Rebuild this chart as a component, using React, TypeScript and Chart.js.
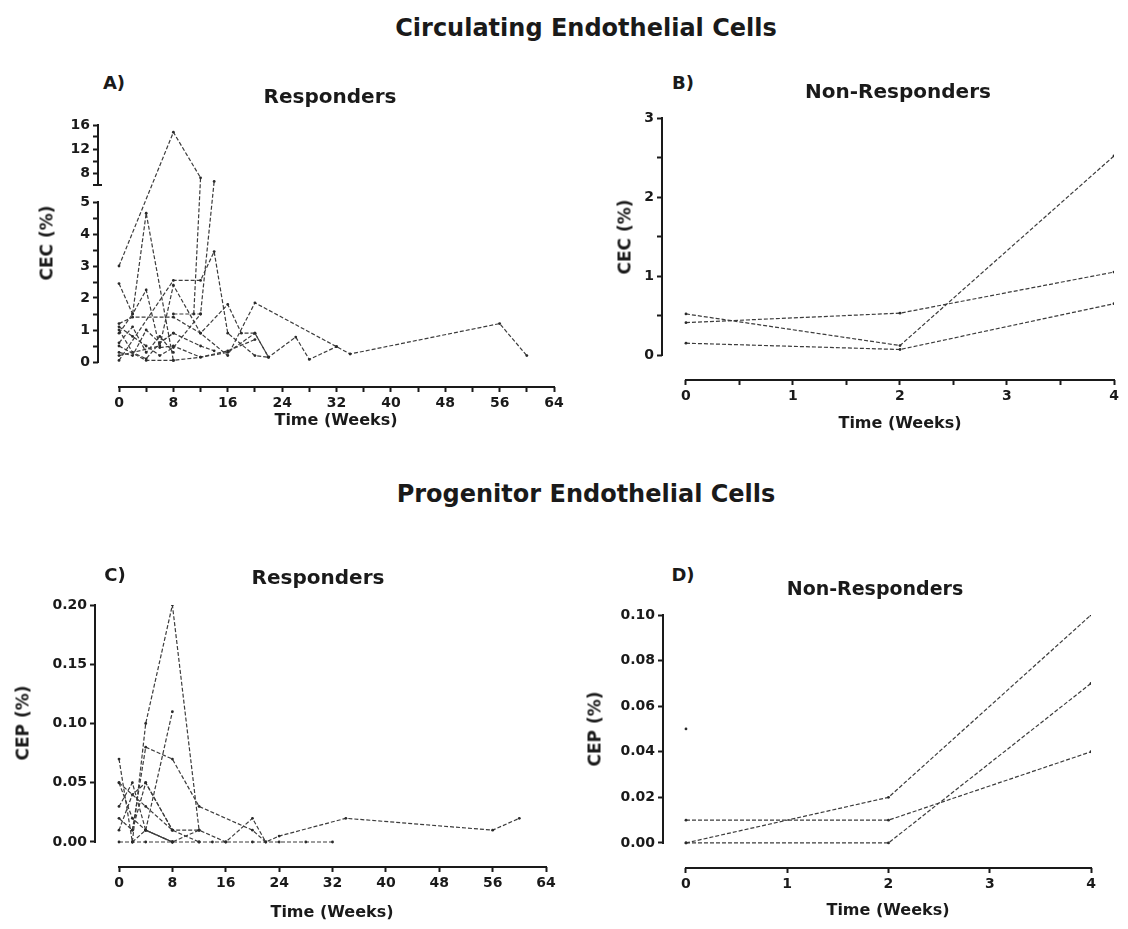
import React, { useEffect, useRef } from 'react';
import { Chart, registerables, LinearScale } from 'chart.js';

Chart.register(...registerables);

// ---------------- DATA ----------------
// Each series = one patient: [week, value] pairs
const cecResponders: number[][][] = [
  [[0, 3.0], [8, 14.8], [12, 7.2], [11, 1.5]],
  [[0, 0.05], [8, 2.55], [12, 2.55], [14, 3.45], [16, 0.9], [20, 0.2], [22, 0.15]],
  [[8, 1.5], [12, 1.5], [14, 6.6]],
  [[0, 2.45], [2, 1.5], [4, 2.25], [6, 0.45], [8, 0.5], [12, 0.15], [16, 0.35], [20, 0.7]],
  [[0, 0.9], [2, 1.5], [4, 4.65], [8, 0.05]],
  [[0, 1.2], [2, 1.4], [8, 1.4], [12, 0.9], [16, 0.2], [20, 1.85], [32, 0.48], [34, 0.25], [56, 1.2], [60, 0.2]],
  [[0, 0.5], [4, 0.05], [8, 0.05], [12, 0.15], [16, 0.3], [20, 0.9], [22, 0.15]],
  [[0, 0.2], [6, 0.5], [8, 2.4], [12, 0.9], [16, 1.8], [18, 0.9], [20, 0.9], [22, 0.15], [26, 0.78], [28, 0.08], [32, 0.48]],
  [[0, 1.0], [2, 0.3], [4, 0.1], [6, 0.6], [8, 0.9]],
  [[0, 0.6], [2, 1.1], [4, 0.3], [6, 0.8], [8, 0.3]],
  [[0, 0.3], [2, 0.2], [4, 1.0], [6, 0.6], [8, 0.9], [12, 0.5], [14, 0.35]],
  [[0, 1.1], [2, 0.8], [4, 0.5], [6, 0.2], [8, 0.45], [12, 1.5]],
];

const cecNonResponders: number[][][] = [
  [[0, 0.52], [2, 0.12], [4, 2.52]],
  [[0, 0.41], [2, 0.53], [4, 1.05]],
  [[0, 0.15], [2, 0.07], [4, 0.65]],
];

const cepResponders: number[][][] = [
  [[2, 0.0], [4, 0.10], [8, 0.20], [12, 0.01]],
  [[4, 0.01], [8, 0.11]],
  [[2, 0.01], [4, 0.08], [8, 0.07], [12, 0.03], [20, 0.01], [22, 0.0], [24, 0.005], [34, 0.02], [56, 0.01], [60, 0.02]],
  [[0, 0.0], [2, 0.0], [4, 0.0], [8, 0.0], [12, 0.0], [14, 0.0], [16, 0.0], [20, 0.0], [24, 0.0], [28, 0.0], [32, 0.0]],
  [[0, 0.07], [2, 0.0], [4, 0.01], [8, 0.0], [12, 0.01], [16, 0.0], [20, 0.02], [22, 0.0]],
  [[0, 0.05], [4, 0.03], [8, 0.01], [12, 0.0]],
  [[0, 0.03], [2, 0.05], [4, 0.01], [8, 0.0]],
  [[0, 0.01], [2, 0.04], [4, 0.05], [8, 0.01], [12, 0.01]],
  [[0, 0.02], [2, 0.01], [4, 0.05], [8, 0.01]],
  [[0, 0.05], [2, 0.02], [4, 0.01], [8, 0.0]],
];

const cepNonResponders: number[][][] = [
  [[0, 0.0], [2, 0.02], [4, 0.10]],
  [[0, 0.01], [2, 0.01], [4, 0.04]],
  [[0, 0.0], [2, 0.0], [4, 0.07]],
  [[0, 0.05]],
];

// Tick values
const weekTicksLong = [0, 8, 16, 24, 32, 40, 48, 56, 64];
const weekMinorLong = [4, 12, 20, 28, 36, 44, 52, 60];
const weekTicksShort = [0, 1, 2, 3, 4];
const weekMinorShort = [0.5, 1.5, 2.5, 3.5];
const cecRespTicks = [0, 1, 2, 3, 4, 5, 8, 12, 16];
const cecRespMinor = [0.5, 1.5, 2.5, 3.5, 4.5, 10, 14];
const cecNonTicks = [0, 1, 2, 3];
const cecNonMinor = [0.5, 1.5, 2.5];
const cepRespTicks = [0, 0.05, 0.1, 0.15, 0.2];
const cepNonTicks = [0, 0.02, 0.04, 0.06, 0.08, 0.1];

// ---------------- STYLE ----------------
const FONT = "'DejaVu Sans', 'Liberation Sans', sans-serif";
const INK = '#1a1a1a';
const LINE = '#3c3c3c';

// ---------------- BROKEN AXIS SCALE (panel A) ----------------
const BREAK_LOW = 5;
const BREAK_HIGH = 6;
const BROKEN_TOP = 16;
const W_LOW = 32;
const W_GAP = 17;
const W_HIGH = 6;
const W_OFFSET = 25;

function brokenUnits(v: number) {
  if (v <= BREAK_LOW) return v * W_LOW;
  if (v <= BREAK_HIGH) return BREAK_LOW * W_LOW + (v - BREAK_LOW) * W_GAP;
  return BREAK_LOW * W_LOW + W_GAP + (v - BREAK_HIGH) * W_HIGH;
}
const U_MIN = -W_OFFSET;
const U_MAX = brokenUnits(BROKEN_TOP);

class BrokenLinearScale extends LinearScale {
  static id = 'brokenLinear';
  static defaults = LinearScale.defaults;
  getPixelForValue(value: number) {
    if (value === null || value === undefined || isNaN(value)) return NaN;
    return this.getPixelForDecimal((brokenUnits(value) - U_MIN) / (U_MAX - U_MIN));
  }
  getValueForPixel(pixel: number) {
    const u = this.getDecimalForPixel(pixel) * (U_MAX - U_MIN) + U_MIN;
    const lowTop = BREAK_LOW * W_LOW;
    if (u <= lowTop) return u / W_LOW;
    if (u <= lowTop + W_GAP) return BREAK_LOW + (u - lowTop) / W_GAP;
    return BREAK_HIGH + (u - lowTop - W_GAP) / W_HIGH;
  }
}
Chart.register(BrokenLinearScale as any);

// ---------------- PANELS ----------------
type Box = { left: number; top: number; width: number; height: number };
type Area = { left: number; top: number; right: number; bottom: number };
type Spec = {
  series: number[][][];
  xMin: number; xMax: number; xMajor: number[]; xMinor: number[];
  yType: string; yMin: number; yMax: number; yMajor: number[]; yMinor: number[];
  yFmt: (v: number) => string;
  xRange: [number, number];
  ySegments: [number, number][];
  breakAt?: number;
  box: Box; area: Area;
};

const intFmt = (v: number) => String(Math.round(v));
const dec2 = (v: number) => v.toFixed(2);

const panels: Spec[] = [
  {
    series: cecResponders,
    xMin: -3.09, xMax: 64, xMajor: weekTicksLong, xMinor: weekMinorLong,
    yType: 'brokenLinear', yMin: 0, yMax: 16, yMajor: cecRespTicks, yMinor: cecRespMinor, yFmt: intFmt,
    xRange: [0, 64], ySegments: [[0, 5], [6, 16]], breakAt: 6,
    box: { left: 0, top: 100, width: 580, height: 325 },
    area: { left: 98, top: 125, right: 554, bottom: 387 },
  },
  {
    series: cecNonResponders,
    xMin: -0.224, xMax: 4, xMajor: weekTicksShort, xMinor: weekMinorShort,
    yType: 'linear', yMin: -0.316, yMax: 3, yMajor: cecNonTicks, yMinor: cecNonMinor, yFmt: intFmt,
    xRange: [0, 4], ySegments: [[0, 3]],
    box: { left: 570, top: 95, width: 558, height: 325 },
    area: { left: 662, top: 118, right: 1114, bottom: 380 },
  },
  {
    series: cepResponders,
    xMin: -3.6, xMax: 64, xMajor: weekTicksLong, xMinor: [],
    yType: 'linear', yMin: -0.0211, yMax: 0.2, yMajor: cepRespTicks, yMinor: [], yFmt: dec2,
    xRange: [0, 64], ySegments: [[0, 0.2]],
    box: { left: 0, top: 580, width: 580, height: 325 },
    area: { left: 95, top: 605, right: 546, bottom: 867 },
  },
  {
    series: cepNonResponders,
    xMin: -0.227, xMax: 4, xMajor: weekTicksShort, xMinor: [],
    yType: 'linear', yMin: -0.011, yMax: 0.1, yMajor: cepNonTicks, yMinor: [], yFmt: dec2,
    xRange: [0, 4], ySegments: [[0, 0.1]],
    box: { left: 570, top: 590, width: 558, height: 315 },
    area: { left: 663, top: 615, right: 1091, bottom: 868 },
  },
];

function mergeTicks(major: number[], minor: number[]) {
  return [...major, ...minor].sort((a, b) => a - b).map((v) => ({ value: v }));
}
function isMajor(v: number, majors: number[]) {
  return majors.some((m) => Math.abs(m - v) < 1e-9);
}

function axisPlugin(spec: Spec) {
  return {
    id: 'prismAxes',
    afterDatasetsDraw(chart: any) {
      const { ctx, chartArea } = chart;
      const x = chart.scales.x;
      const y = chart.scales.y;
      ctx.save();
      ctx.strokeStyle = INK;
      ctx.lineWidth = 2;
      ctx.beginPath();
      ctx.moveTo(x.getPixelForValue(spec.xRange[0]) - 1, chartArea.bottom);
      ctx.lineTo(x.getPixelForValue(spec.xRange[1]) + 1, chartArea.bottom);
      for (const [a, b] of spec.ySegments) {
        ctx.moveTo(chartArea.left, y.getPixelForValue(a) + 1);
        ctx.lineTo(chartArea.left, y.getPixelForValue(b) - 1);
      }
      ctx.stroke();
      if (spec.breakAt !== undefined) {
        const py = y.getPixelForValue(spec.breakAt);
        ctx.beginPath();
        ctx.moveTo(chartArea.left - 5, py);
        ctx.lineTo(chartArea.left + 4, py);
        ctx.stroke();
      }
      ctx.restore();
    },
  };
}

function buildConfig(spec: Spec): any {
  const { box, area } = spec;
  const tickFont = { family: FONT, weight: 'bold', size: 14 };
  const grid = {
    drawOnChartArea: false,
    drawTicks: true,
    tickLength: 5,
    tickColor: INK,
    tickWidth: 2,
    color: INK,
  };
  return {
    type: 'scatter',
    data: {
      datasets: spec.series.map((s) => ({
        data: s.map(([x, y]) => ({ x, y })),
        showLine: true,
        borderColor: LINE,
        borderWidth: 1.2,
        borderDash: [4, 2],
        pointRadius: 1.4,
        pointBackgroundColor: '#2a2a2a',
        pointBorderWidth: 0,
        tension: 0,
      })),
    },
    options: {
      responsive: false,
      animation: false,
      events: [],
      layout: {
        padding: {
          left: 0,
          top: area.top - box.top,
          right: box.left + box.width - area.right,
          bottom: 0,
        },
      },
      plugins: {
        legend: { display: false },
        tooltip: { enabled: false },
        title: { display: false },
      },
      scales: {
        x: {
          type: 'linear',
          min: spec.xMin,
          max: spec.xMax,
          bounds: 'data',
          afterBuildTicks: (s: any) => {
            s.ticks = mergeTicks(spec.xMajor, spec.xMinor);
          },
          afterFit: (s: any) => {
            s.height = box.top + box.height - area.bottom;
          },
          grid,
          border: { display: false },
          ticks: {
            autoSkip: false,
            maxRotation: 0,
            padding: 3,
            font: tickFont,
            color: INK,
            callback: (v: number) => (isMajor(v, spec.xMajor) ? intFmt(v) : ''),
          },
        },
        y: {
          type: spec.yType,
          min: spec.yMin,
          max: spec.yMax,
          bounds: 'data',
          afterBuildTicks: (s: any) => {
            s.ticks = mergeTicks(spec.yMajor, spec.yMinor);
          },
          afterFit: (s: any) => {
            s.width = area.left - box.left;
          },
          grid,
          border: { display: false },
          ticks: {
            autoSkip: false,
            padding: 3,
            font: tickFont,
            color: INK,
            callback: (v: number) => (isMajor(v, spec.yMajor) ? spec.yFmt(v) : ''),
          },
        },
      },
    },
    plugins: [axisPlugin(spec)],
  };
}

function Panel({ spec }: { spec: Spec }) {
  const ref = useRef<HTMLCanvasElement>(null);
  useEffect(() => {
    const chart = new Chart(ref.current as HTMLCanvasElement, buildConfig(spec));
    return () => chart.destroy();
  }, [spec]);
  return (
    <canvas
      ref={ref}
      width={spec.box.width}
      height={spec.box.height}
      style={{
        position: 'absolute',
        left: spec.box.left,
        top: spec.box.top,
        width: spec.box.width,
        height: spec.box.height,
      }}
    />
  );
}

type Label = { text: string; x: number; y: number; size: number; rotate?: boolean };
const labels: Label[] = [
  { text: 'Circulating Endothelial Cells', x: 586, y: 28, size: 24 },
  { text: 'Progenitor Endothelial Cells', x: 586, y: 494, size: 24 },
  { text: 'A)', x: 114, y: 83, size: 18 },
  { text: 'B)', x: 683, y: 83, size: 18 },
  { text: 'C)', x: 115, y: 575, size: 18 },
  { text: 'D)', x: 683, y: 575, size: 18 },
  { text: 'Responders', x: 330, y: 96, size: 20 },
  { text: 'Non-Responders', x: 898, y: 91, size: 20 },
  { text: 'Responders', x: 318, y: 577, size: 20 },
  { text: 'Non-Responders', x: 875, y: 588, size: 19 },
  { text: 'CEC (%)', x: 47, y: 243, size: 17, rotate: true },
  { text: 'CEC (%)', x: 625, y: 237, size: 17, rotate: true },
  { text: 'CEP (%)', x: 23, y: 723, size: 17, rotate: true },
  { text: 'CEP (%)', x: 595, y: 729, size: 17, rotate: true },
  { text: 'Time (Weeks)', x: 336, y: 420, size: 16 },
  { text: 'Time (Weeks)', x: 900, y: 423, size: 16 },
  { text: 'Time (Weeks)', x: 332, y: 912, size: 16 },
  { text: 'Time (Weeks)', x: 888, y: 910, size: 16 },
];

export default function App() {
  return (
    <div
      style={{
        position: 'absolute',
        left: 0,
        top: 0,
        width: 1128,
        height: 929,
        background: '#ffffff',
        overflow: 'hidden',
      }}
    >
      {panels.map((p, i) => (
        <Panel key={i} spec={p} />
      ))}
      {labels.map((l, i) => (
        <div
          key={'l' + i}
          style={{
            position: 'absolute',
            left: l.x,
            top: l.y,
            transform: `translate(-50%, -50%)${l.rotate ? ' rotate(-90deg)' : ''}`,
            fontFamily: FONT,
            fontWeight: 'bold',
            fontSize: l.size,
            lineHeight: 1,
            color: INK,
            whiteSpace: 'nowrap',
          }}
        >
          {l.text}
        </div>
      ))}
    </div>
  );
}
